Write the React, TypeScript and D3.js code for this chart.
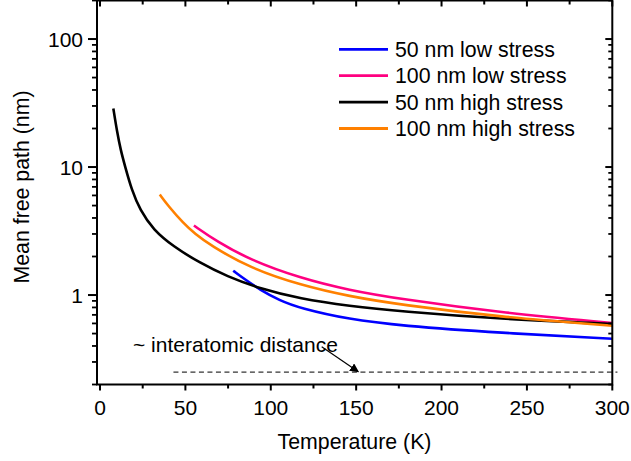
import React from "react";
import * as d3 from "d3";

const blueT = [78, 85, 93.7, 105, 117, 146, 176, 234, 300];
const blueV = [1.55, 1.32, 1.1, 0.91, 0.79, 0.645, 0.576, 0.506, 0.456];
const pinkT = [55, 68.4, 88, 117, 146, 176, 234, 300];
const pinkV = [3.49, 2.62, 1.88, 1.36, 1.09, 0.93, 0.73, 0.605];
const blackT = [7.8, 10, 12.1, 14.6, 18.6, 23.4, 31.2, 43, 58.6, 74.2, 93.7, 117, 146, 176, 234, 300];
const blackV = [28.7, 18.8, 13.6, 10.2, 6.6, 4.62, 3.23, 2.39, 1.78, 1.4, 1.12, 0.935, 0.82, 0.745, 0.65, 0.594];
const orangeT = [35, 40, 48.8, 55.7, 64.5, 88, 117, 146, 176, 234, 300];
const orangeV = [6.1, 4.96, 3.64, 3.0, 2.45, 1.62, 1.2, 0.975, 0.84, 0.674, 0.576];

const seriesNames = ["50 nm low stress", "100 nm low stress", "50 nm high stress", "100 nm high stress"];
const seriesColors = ["#0000FF", "#FF0080", "#000000", "#FF8000"];

const xTicks = [0, 50, 100, 150, 200, 250, 300];
const xMinor = [25, 75, 125, 175, 225, 275];
const yTicks = [1, 10, 100];
const yTickLabels = ["1", "10", "100"];

const interatomic = 0.25;
const dashStartT = 43;
const dashEndT = 303;
const annotation = "~ interatomic distance";

export default function App() {
  const W = 631, H = 461;
  const x = d3.scaleLinear().domain([-2, 300]).range([96.6, 612.3]);
  const y = d3.scaleLog().domain([0.2, 200]).range([384.5, 0.5]);
  const x0 = 97, x1 = 612.3, y0 = 384.5, y1 = 0.5;

  const series = [
    blueT.map((t, i) => [t, blueV[i]]),
    pinkT.map((t, i) => [t, pinkV[i]]),
    blackT.map((t, i) => [t, blackV[i]]),
    orangeT.map((t, i) => [t, orangeV[i]]),
  ];
  const line = d3
    .line<number[]>()
    .x((d) => x(d[0]))
    .y((d) => y(d[1]))
    .curve(d3.curveBasis);

  const yMinor: number[] = [];
  [0.1, 1, 10, 100].forEach((dec) => {
    for (let k = 2; k <= 9; k++) {
      const v = dec * k;
      if (v >= 0.2 && v <= 200) yMinor.push(v);
    }
  });

  const font = "'Liberation Sans', Arial, sans-serif";
  const dy = y(interatomic);

  return (
    <svg width={W} height={H} style={{ position: "absolute", left: 0, top: 0, background: "#fff" }} fontFamily={font}>
      <defs>
        <marker id="arr" viewBox="0 0 10 10" refX="9" refY="5" markerWidth="9" markerHeight="9" markerUnits="userSpaceOnUse" orient="auto">
          <path d="M0,0 L10,5 L0,10 z" fill="#000" />
        </marker>
      </defs>
      <rect x={0} y={0} width={W} height={H} fill="#fff" />

      {series.map((s, i) => (
        <path key={i} d={line(s) || ""} fill="none" stroke={seriesColors[i]} strokeWidth={2.6} />
      ))}

      {/* dashed reference line */}
      <line x1={x(dashStartT)} x2={x(dashEndT)} y1={dy} y2={dy} stroke="#000" strokeWidth={1} strokeDasharray="5,3.5" />
      <text x={133} y={352} fontSize={21}>{annotation}</text>
      <line x1={321.7} y1={346.7} x2={358.3} y2={371.7} stroke="#000" strokeWidth={1.2} markerEnd="url(#arr)" />

      {/* axes frame */}
      <rect x={x0} y={y1} width={x1 - x0} height={y0 - y1} fill="none" stroke="#000" strokeWidth={2} />

      {/* x ticks bottom (outward) and top (inward) */}
      {xTicks.map((t) => (
        <g key={"xt" + t}>
          <line x1={x(t)} x2={x(t)} y1={y0} y2={y0 + 6} stroke="#000" strokeWidth={2} />
          <line x1={x(t)} x2={x(t)} y1={y1} y2={y1 + 6} stroke="#000" strokeWidth={2} />
          <text x={x(t)} y={414.5} fontSize={21} textAnchor="middle">{t}</text>
        </g>
      ))}
      {xMinor.map((t) => (
        <g key={"xm" + t}>
          <line x1={x(t)} x2={x(t)} y1={y0} y2={y0 + 4} stroke="#000" strokeWidth={2} />
          <line x1={x(t)} x2={x(t)} y1={y1} y2={y1 + 4} stroke="#000" strokeWidth={2} />
        </g>
      ))}

      {/* y ticks left (outward) and right (inward) */}
      {yTicks.map((v, i) => (
        <g key={"yt" + v}>
          <line x1={x0 - 9} x2={x0} y1={y(v)} y2={y(v)} stroke="#000" strokeWidth={2} />
          <line x1={x1 - 7} x2={x1} y1={y(v)} y2={y(v)} stroke="#000" strokeWidth={2} />
          <text x={83} y={y(v) + 7.5} fontSize={21} textAnchor="end">{yTickLabels[i]}</text>
        </g>
      ))}
      {yMinor.map((v) => (
        <g key={"ym" + v}>
          <line x1={x0 - 5} x2={x0} y1={y(v)} y2={y(v)} stroke="#000" strokeWidth={1.8} />
          <line x1={x1 - 4} x2={x1} y1={y(v)} y2={y(v)} stroke="#000" strokeWidth={1.8} />
        </g>
      ))}

      {/* axis titles */}
      <text x={354.5} y={449} fontSize={21.3} textAnchor="middle">Temperature (K)</text>
      <text transform={`translate(28.5,187) rotate(-90)`} fontSize={21.3} textAnchor="middle">Mean free path (nm)</text>

      {/* legend */}
      {seriesNames.map((n, i) => {
        const ly = 49.3 + i * 26.4;
        return (
          <g key={n}>
            <line x1={339} x2={388} y1={ly} y2={ly} stroke={seriesColors[i]} strokeWidth={2.8} />
            <text x={395} y={ly + 7.5} fontSize={21.3}>{n}</text>
          </g>
        );
      })}
    </svg>
  );
}
